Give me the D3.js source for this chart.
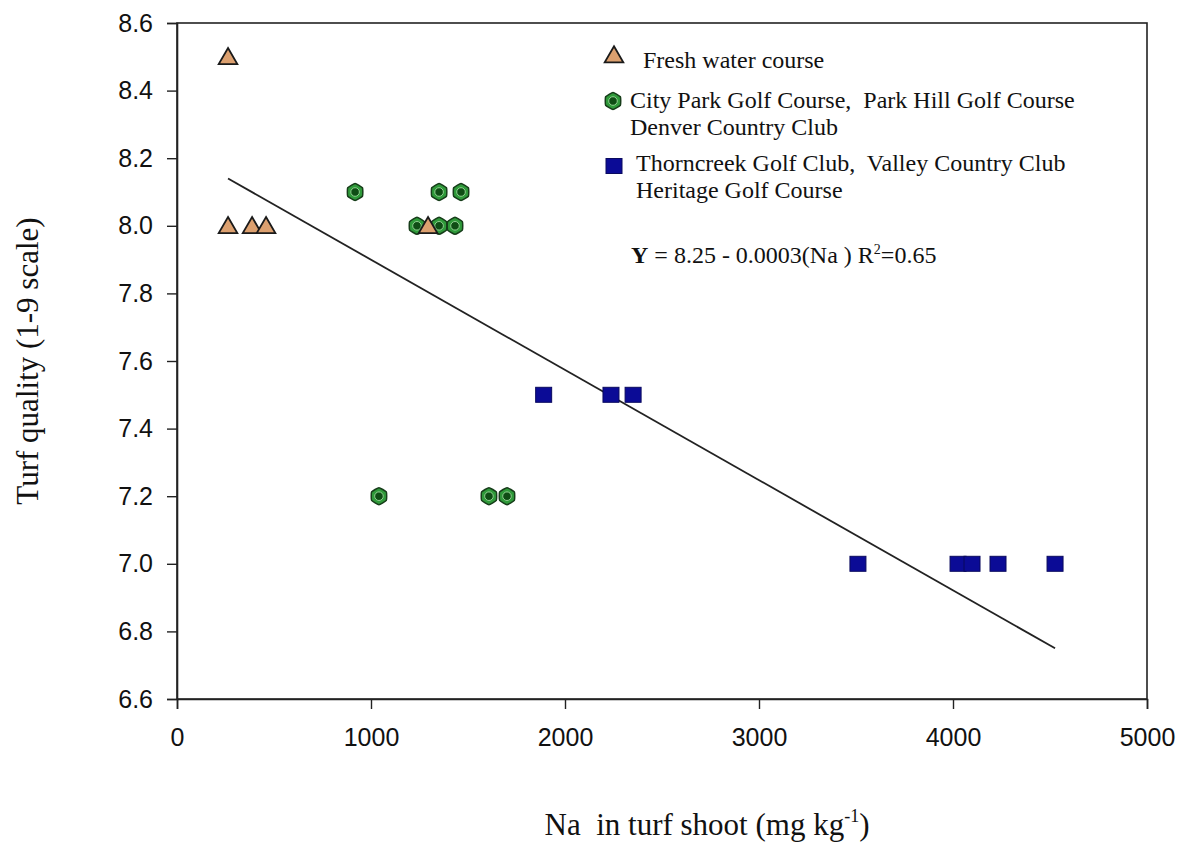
<!DOCTYPE html>
<html>
<head>
<meta charset="utf-8">
<script src="https://cdn.jsdelivr.net/npm/d3@7"></script>
<style>
  body { margin: 0; background: #fff; }
  .tick text { font-family: "Liberation Sans", Arial, sans-serif; font-size: 25px; fill: #111; }
  .title { font-family: "Liberation Serif", "Times New Roman", serif; font-size: 31px; fill: #111; }
  .legend text { font-family: "Liberation Serif", "Times New Roman", serif; font-size: 24px; fill: #111; }
</style>
</head>
<body>
<svg id="chart"></svg>
<script>
// data
const freshNa = [263, 263, 387, 459, 1294];
const freshQ = [8.5, 8.0, 8.0, 8.0, 8.0];

const denverNa = [918, 1351, 1464, 1237, 1351, 1433, 1041, 1608, 1701];
const denverQ = [8.1, 8.1, 8.1, 8.0, 8.0, 8.0, 7.2, 7.2, 7.2];

const northNa = [1890, 2237, 2351, 3510, 4026, 4098, 4232, 4526];
const northQ = [7.5, 7.5, 7.5, 7.0, 7.0, 7.0, 7.0, 7.0];

// fitted line as drawn, endpoints
const fitNa = [263, 4526];
const fitQ = [8.14, 6.75];

const xTicks = [0, 1000, 2000, 3000, 4000, 5000];
const yTicks = [6.6, 6.8, 7.0, 7.2, 7.4, 7.6, 7.8, 8.0, 8.2, 8.4, 8.6];

const width = 1183, height = 846;
const margin = { top: 23, right: 36, bottom: 147, left: 177 };

const svg = d3.select("#chart").attr("width", width).attr("height", height);

const x = d3.scaleLinear().domain([0, 5000]).range([margin.left, width - margin.right]);
const y = d3.scaleLinear().domain([6.6, 8.6]).range([height - margin.bottom, margin.top]);

// frame
svg.append("rect")
    .attr("x", x(0)).attr("y", y(8.6))
    .attr("width", x(5000) - x(0)).attr("height", y(6.6) - y(8.6))
    .attr("fill", "none").attr("stroke", "#222").attr("stroke-width", 1.6);

const xAxis = d3.axisBottom(x).tickValues(xTicks).tickFormat(d3.format("d")).tickSize(10).tickPadding(19);
const yAxis = d3.axisLeft(y).tickValues(yTicks).tickFormat(d3.format(".1f")).tickSize(10).tickPadding(14);

const gx = svg.append("g").attr("transform", `translate(0,${y(6.6)})`).call(xAxis);
const gy = svg.append("g").attr("transform", `translate(${x(0)},0)`).call(yAxis);
[gx, gy].forEach(g => {
    g.select(".domain").attr("stroke", "#222").attr("stroke-width", 1.6);
    g.selectAll(".tick line").attr("stroke", "#222").attr("stroke-width", 1.4);
});

// regression line
svg.append("line")
    .attr("x1", x(fitNa[0])).attr("y1", y(fitQ[0]))
    .attr("x2", x(fitNa[1])).attr("y2", y(fitQ[1]))
    .attr("stroke", "#222").attr("stroke-width", 1.8);

const tri = d3.symbol().type(d3.symbolTriangle).size(150);

function drawTriangle(g, cx, cy) {
    g.append("path").attr("d", tri())
        .attr("transform", `translate(${cx},${cy + 2})`)
        .attr("fill", "#dca06f").attr("stroke", "#1a1a1a").attr("stroke-width", 1.8);
}
function drawHex(g, cx, cy) {
    const r = 8.5;
    const pts = d3.range(6).map(i => {
        const a = Math.PI / 6 + i * Math.PI / 3;
        return [cx + r * Math.cos(a), cy + r * Math.sin(a)];
    });
    g.append("path").attr("d", d3.line().curve(d3.curveCardinalClosed.tension(0.6))(pts))
        .attr("fill", "#2f9a3a").attr("stroke", "#173d1a").attr("stroke-width", 1.5);
    g.append("circle").attr("cx", cx).attr("cy", cy).attr("r", 4.3)
        .attr("fill", "#0f4d15").attr("stroke", "#8fd08f").attr("stroke-width", 1);
}
function drawSquare(g, cx, cy) {
    g.append("rect").attr("x", cx - 8).attr("y", cy - 7.5).attr("width", 16).attr("height", 15)
        .attr("fill", "#0b0b96").attr("stroke", "#0a0a5e").attr("stroke-width", 1);
}

const marks = svg.append("g");
denverNa.forEach((d, i) => drawHex(marks, x(d), y(denverQ[i])));
freshNa.forEach((d, i) => drawTriangle(marks, x(d), y(freshQ[i])));
northNa.forEach((d, i) => drawSquare(marks, x(d), y(northQ[i])));

// legend
const lg = svg.append("g").attr("class", "legend");
drawTriangle(lg, 614, 55);
lg.append("text").attr("x", 643).attr("y", 68).text("Fresh water course");
drawHex(lg, 613, 101);
lg.append("text").attr("x", 630).attr("y", 108).text("City Park Golf Course,  Park Hill Golf Course").attr("xml:space", "preserve");
lg.append("text").attr("x", 630).attr("y", 135).text("Denver Country Club");
drawSquare(lg, 614, 166);
lg.append("text").attr("x", 636).attr("y", 171).text("Thorncreek Golf Club,  Valley Country Club").attr("xml:space", "preserve");
lg.append("text").attr("x", 636).attr("y", 198).text("Heritage Golf Course");

const eq = lg.append("text").attr("x", 631).attr("y", 263).attr("font-size", 25).attr("xml:space", "preserve");
eq.append("tspan").attr("font-weight", "bold").text("Y");
eq.append("tspan").text(" = 8.25 - 0.0003(Na ) R");
eq.append("tspan").attr("font-size", 14).attr("dy", -9).text("2");
eq.append("tspan").attr("dy", 9).text("=0.65");

// axis titles
svg.append("text").attr("class", "title")
    .attr("transform", `translate(38,${(y(8.6) + y(6.6)) / 2}) rotate(-90)`)
    .attr("text-anchor", "middle")
    .text("Turf quality (1-9 scale)");

const xt = svg.append("text").attr("class", "title")
    .attr("x", 707).attr("y", 835).attr("text-anchor", "middle").attr("xml:space", "preserve");
xt.append("tspan").text("Na  in turf shoot (mg kg");
xt.append("tspan").attr("font-size", 18).attr("dy", -13).text("-1");
xt.append("tspan").attr("dy", 13).text(")");
</script>
</body>
</html>
